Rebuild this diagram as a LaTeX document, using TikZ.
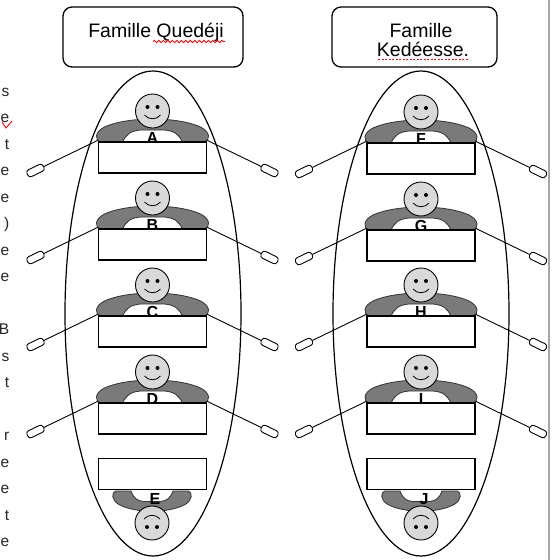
\documentclass[tikz,border=0pt]{standalone}
\usepackage{fontspec}
\setmainfont{Liberation Sans}
\usetikzlibrary{decorations.pathmorphing}

\tikzset{
  famhead/.style={draw, line width=1.3pt, rounded corners=9pt, minimum width=180pt, minimum height=60pt, inner sep=0pt},
  famtext/.style={font=\fontsize{19.5}{19}\selectfont, inner sep=0pt, anchor=base},
  clan/.style={draw, line width=1.2pt},
  slot/.style={draw, fill=white, line width=1.3pt, minimum width=108pt, minimum height=31pt, inner sep=0pt},
  receiver/.style={fill=black!52, draw=black!80, line width=0.8pt},
  headcirc/.style={circle, draw, fill=black!15, line width=0.9pt, minimum size=34pt, inner sep=0pt},
  paddle/.style={draw, fill=white, line width=0.9pt, rounded corners=3pt, minimum width=18pt, minimum height=7.5pt, inner sep=0pt},
  arm/.style={draw, line width=0.9pt},
  tag/.style={font=\fontsize{16}{16}\selectfont\bfseries, inner sep=0pt, anchor=base},
  margintext/.style={font=\fontsize{15.5}{16}\selectfont, text=black!85, inner sep=0pt, anchor=base east},
  spell/.style={draw=red, line width=0.9pt},
  pics/handset/.style={code={
    \path[receiver] (-30,0) -- (-52,0)
      .. controls (-58,-2) and (-58,-10) .. (-48,-15)
      .. controls (-35,-21) and (-15,-23) .. (0,-23)
      .. controls (15,-23) and (35,-21) .. (48,-15)
      .. controls (58,-10) and (58,-2) .. (52,0) -- (30,0)
      .. controls (26,-8) and (22,-11) .. (12,-12) -- (-12,-12)
      .. controls (-22,-11) and (-26,-8) .. (-30,0) -- cycle;
  }},
  pics/face/.style={code={
    \node[headcirc] (-c) at (0,0) {};
    \fill (-5,-4) circle (2);
    \fill (5,-4) circle (2);
    \draw[line width=0.8pt] (-8,4) .. controls (-4,9) and (4,9) .. (8,4);
  }},
}

% one caller: paddles on arms, receiver, head, letter and the empty slot below
\newcommand\callerrow[4]{%
  \begin{scope}[shift={(#2,#3)}]
    \node[paddle, rotate=25.8] (#1pl) at (-117,28.5) {};
    \node[paddle, rotate=-25.8] (#1pr) at (117,28.5) {};
    \coordinate (#1hl) at (-54,-2);
    \coordinate (#1hr) at (54,-2);
    \draw[arm] (#1hl) -- (#1pl.east);
    \draw[arm] (#1hr) -- (#1pr.west);
    \pic (#1h) at (0,0) {handset};
    \node[tag] (#1t) at (0,1) {#4};
    \pic (#1f) at (0,-31) {face};
    \node[slot] (#1b) at (0,15.5) {};
  \end{scope}}

% upside-down caller at the foot of a family
\newcommand\footcaller[4]{%
  \pic[xscale=-0.7, yscale=-0.88] (#1h) at (#2,#3) {handset};
  \pic[xscale=-1, yscale=-1] (#1f) at (#2,#3+32) {face};
  \node[tag] (#1t) at (#2+3,#3+13) {#4};}

\begin{document}
\begin{tikzpicture}[x=1pt,y=-1pt]
\fill[white] (0,0) rectangle (552,560);
\useasboundingbox (0,0) rectangle (552,560);

% page edge
\draw[black!35, line width=1.5pt] (549,0) -- (549,560);

% ends of the text lines of the neighbouring column
\foreach \k/\ch in {0/s,1/e,2/t,3/e,4/e,5/{)},6/e,7/e,9/B,10/s,11/t,13/r,14/e,15/e,16/t,17/e}
  \node[margintext] (m\k) at (9.5,96+26.5*\k) {\ch};
\draw[spell] (2,122) -- (6,128) -- (12,121);

% family headers
\node[famhead] (hq) at (153,37) {};
\node[famtext] (hqT) at (156,37) {Famille Quedéji};
\draw[spell, decorate, decoration={snake, amplitude=1.1pt, segment length=4.5pt}] (153,41.5) -- (225,41.5);

\node[famhead, minimum width=165pt] (hk) at (414.5,37) {};
\node[famtext] (hkT1) at (421,37) {Famille};
\node[famtext] (hkT2) at (423,56) {Kedéesse.};
\draw[spell, line width=1.1pt, dash pattern=on 2pt off 1.5pt] (378,59.5) -- (468,59.5);

% family circles
\draw[clan] (153,313.5) ellipse [x radius=88, y radius=242.5];
\draw[clan] (421,313.5) ellipse [x radius=88, y radius=242.5];

% Famille Quedéji
\callerrow{A}{152.5}{142}{A}
\callerrow{B}{152.5}{229}{B}
\callerrow{C}{152.5}{316}{C}
\callerrow{D}{152.5}{403}{D}
\node[slot] (Qempty) at (152.5,474) {};
\footcaller{E}{152}{491}{E}

% Famille Kedéesse
\callerrow{F}{421}{143}{F}
\callerrow{G}{421}{230}{G}
\callerrow{H}{421}{316}{H}
\callerrow{I}{421}{403}{I}
\node[slot] (Kempty) at (421,474) {};
\footcaller{J}{421}{491}{J}
\end{tikzpicture}
\end{document}
